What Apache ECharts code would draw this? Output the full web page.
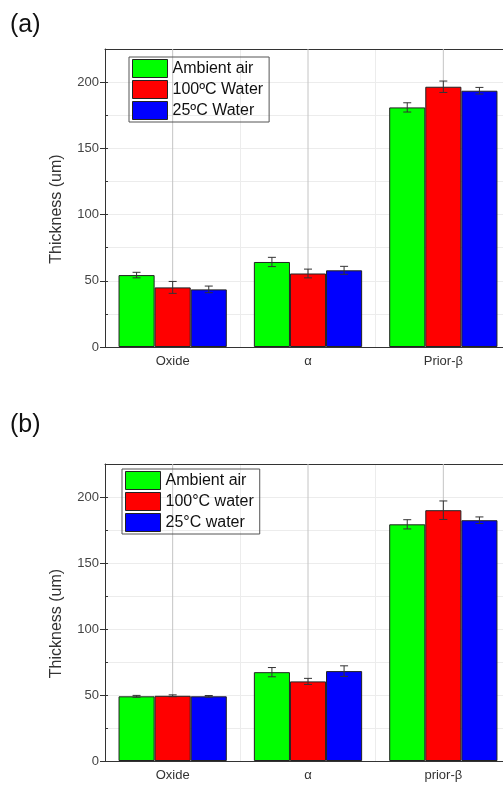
<!DOCTYPE html>
<html>
<head>
<meta charset="utf-8">
<script src="https://cdn.jsdelivr.net/npm/echarts@6/dist/echarts.min.js"></script>
<style>html,body{margin:0;padding:0;background:#fff;overflow:hidden;}#c{width:520px;height:786px;}</style>
</head>
<body>
<div id="c"></div>
<script>
// ---- data ----
const categoriesA = ['Oxide', 'α', 'Prior-β'];
const categoriesB = ['Oxide', 'α', 'prior-β'];
const seriesNamesA = ['Ambient air', '100ºC Water', '25ºC Water'];
const seriesNamesB = ['Ambient air', '100°C water', '25°C water'];

const ambientA = [54.3, 64.2, 180.9];
const ambientErrA = [2.1, 3.5, 3.5];
const hot100A = [45.0, 55.5, 196.5];
const hot100ErrA = [4.5, 3.3, 4.3];
const cold25A = [43.5, 57.9, 193.5];
const cold25ErrA = [2.5, 3.0, 2.5];

const ambientB = [49.0, 67.3, 179.3];
const ambientErrB = [0.7, 3.5, 3.5];
const hot100B = [49.4, 60.3, 190.0];
const hot100ErrB = [0.7, 2.3, 7.0];
const cold25B = [49.0, 68.1, 182.4];
const cold25ErrB = [0.6, 4.0, 2.5];

const yTicks = [0, 50, 100, 150, 200];
const yMax = 225;

const colors = ['#00ff00', '#ff0000', '#0000ff'];
const FONT = '"Liberation Sans", Arial, sans-serif';

const chart = echarts.init(document.getElementById('c'), null, {renderer: 'canvas'});

function errRender(k) {
  return function (params, api) {
    const idx = api.value(0);
    const base = api.coord([idx, 0]);
    const band = api.size([1, 0])[0];
    const bw = band * 0.8 / 3;
    const cx = base[0] + (k - 1) * bw;
    const yLo = api.coord([idx, api.value(1)])[1];
    const yHi = api.coord([idx, api.value(2)])[1];
    const cap = 4;
    const st = {stroke: '#333', lineWidth: 1};
    return {
      type: 'group',
      children: [
        {type: 'line', shape: {x1: cx, y1: yLo, x2: cx, y2: yHi}, style: st},
        {type: 'line', shape: {x1: cx - cap, y1: yHi, x2: cx + cap, y2: yHi}, style: st},
        {type: 'line', shape: {x1: cx - cap, y1: yLo, x2: cx + cap, y2: yLo}, style: st}
      ]
    };
  };
}

// vertical grid lines at category centres (behind the bars)
function centreGridRender(params, api) {
  const idx = api.value(0);
  const p0 = api.coord([idx, 0]);
  const p1 = api.coord([idx, yMax]);
  return {type: 'line', shape: {x1: p0[0], y1: p0[1], x2: p1[0], y2: p1[1]},
    style: {stroke: '#c4c4c4', lineWidth: 1}};
}

function makeX(gi, cats) {
  return [
    { // main bottom axis: ticks at centres, labels
      type: 'category', gridIndex: gi, data: cats, position: 'bottom',
      axisLine: {lineStyle: {color: '#333', width: 1}},
      axisTick: {alignWithLabel: true, length: 5, lineStyle: {color: '#333'}},
      axisLabel: {fontFamily: FONT, fontSize: 13, color: '#333', margin: 8},
      splitLine: {show: false}
    },
    { // boundary ticks bottom
      type: 'category', gridIndex: gi, data: cats, position: 'bottom',
      axisLine: {show: false},
      axisTick: {alignWithLabel: false, length: 3, lineStyle: {color: '#333'}},
      axisLabel: {show: false},
      splitLine: {show: true, lineStyle: {color: '#ececec', width: 1}}
    },
    { // top frame
      type: 'category', gridIndex: gi, data: cats, position: 'top',
      axisLine: {show: true, lineStyle: {color: '#333', width: 1}},
      axisTick: {alignWithLabel: true, inside: true, length: 4, lineStyle: {color: '#333'}},
      axisLabel: {show: false}, splitLine: {show: false}
    },
    {
      type: 'category', gridIndex: gi, data: cats, position: 'top',
      axisLine: {show: false},
      axisTick: {alignWithLabel: false, inside: true, length: 3, lineStyle: {color: '#333'}},
      axisLabel: {show: false}, splitLine: {show: false}
    }
  ];
}

function makeY(gi) {
  return [
    {
      type: 'value', gridIndex: gi, min: yTicks[0], max: yMax, interval: yTicks[1] - yTicks[0],
      name: 'Thickness (um)', nameLocation: 'middle', nameGap: 40, nameRotate: 90,
      nameTextStyle: {fontFamily: FONT, fontSize: 16, color: '#333', padding: [0, 22, 0, 0]},
      axisLine: {show: true, lineStyle: {color: '#333', width: 1}},
      axisTick: {show: true, length: 5, lineStyle: {color: '#333'}},
      axisLabel: {fontFamily: FONT, fontSize: 13, color: '#444', margin: 6, showMaxLabel: false,
        formatter: v => (yTicks.indexOf(v) >= 0 ? String(v) : '')},
      splitLine: {show: true, lineStyle: {color: '#c8c8c8', width: 1}}
    },
    {
      type: 'value', gridIndex: gi, min: 0, max: yMax, interval: 25, position: 'left',
      axisLine: {show: false},
      axisTick: {show: true, inside: true, length: 3, lineStyle: {color: '#333'}},
      axisLabel: {show: false},
      splitLine: {show: true, lineStyle: {color: '#ececec', width: 1}}
    }
  ];
}

function barSeries(name, vals, k, gi) {
  return {
    name: name, type: 'bar', xAxisIndex: gi * 4, yAxisIndex: gi * 2,
    data: vals, barGap: '0%', barCategoryGap: '20%', z: 3,
    itemStyle: {color: colors[k], borderColor: '#222', borderWidth: 1}
  };
}
function errSeries(vals, errs, k, gi) {
  return {
    type: 'custom', xAxisIndex: gi * 4, yAxisIndex: gi * 2, z: 5,
    renderItem: errRender(k), silent: true,
    encode: {x: 0, y: [1, 2]},
    data: vals.map((v, i) => [i, v - errs[i], v + errs[i]])
  };
}
function gridSeries(cats, gi) {
  return {
    type: 'custom', xAxisIndex: gi * 4, yAxisIndex: gi * 2, z: 1, silent: true,
    renderItem: centreGridRender, encode: {x: 0},
    data: cats.map((c, i) => [i])
  };
}

function legendFor(names, left, top) {
  return {
    data: names, orient: 'vertical', left: left, top: top,
    itemWidth: 35, itemHeight: 18, itemGap: 2,
    padding: [2, 6, 2, 3], borderColor: '#555', borderWidth: 1,
    icon: 'rect',
    textStyle: {fontFamily: FONT, fontSize: 16, color: '#111'},
    itemStyle: {borderColor: '#222', borderWidth: 1}
  };
}

const option = {
  animation: false,
  backgroundColor: '#fff',
  graphic: [
    {type: 'text', left: 10, top: 13, style: {text: '(a)', fontFamily: FONT, fontSize: 25, fill: '#111'}},
    {type: 'text', left: 10, top: 413, style: {text: '(b)', fontFamily: FONT, fontSize: 25, fill: '#111'}}
  ],
  legend: [legendFor(seriesNamesA, 129, 57), legendFor(seriesNamesB, 122, 469)],
  grid: [
    {left: 105, top: 49, width: 406, height: 298, containLabel: false},
    {left: 105, top: 464, width: 406, height: 297, containLabel: false}
  ],
  xAxis: makeX(0, categoriesA).concat(makeX(1, categoriesB)),
  yAxis: makeY(0).concat(makeY(1)),
  series: [
    gridSeries(categoriesA, 0),
    barSeries(seriesNamesA[0], ambientA, 0, 0),
    barSeries(seriesNamesA[1], hot100A, 1, 0),
    barSeries(seriesNamesA[2], cold25A, 2, 0),
    errSeries(ambientA, ambientErrA, 0, 0),
    errSeries(hot100A, hot100ErrA, 1, 0),
    errSeries(cold25A, cold25ErrA, 2, 0),
    gridSeries(categoriesB, 1),
    barSeries(seriesNamesB[0], ambientB, 0, 1),
    barSeries(seriesNamesB[1], hot100B, 1, 1),
    barSeries(seriesNamesB[2], cold25B, 2, 1),
    errSeries(ambientB, ambientErrB, 0, 1),
    errSeries(hot100B, hot100ErrB, 1, 1),
    errSeries(cold25B, cold25ErrB, 2, 1)
  ]
};
chart.setOption(option);
</script>
</body>
</html>
